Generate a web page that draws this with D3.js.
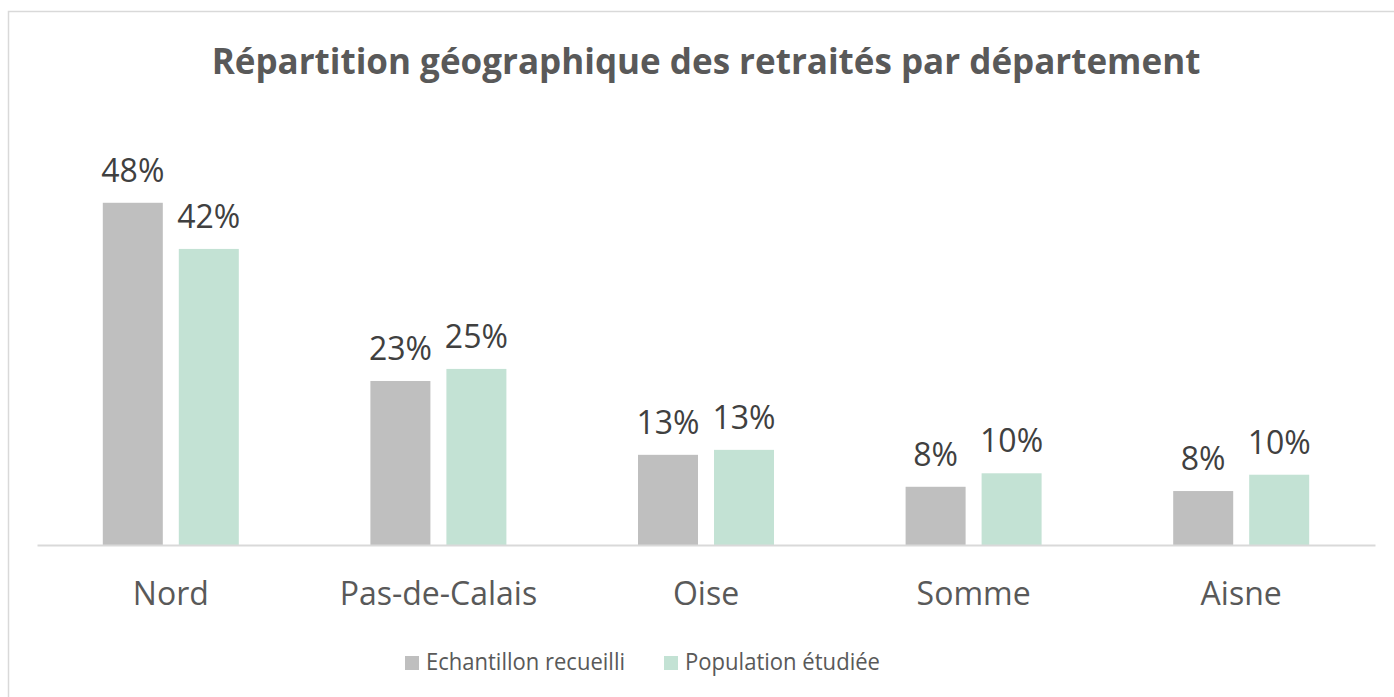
<!DOCTYPE html>
<html>
<head>
<meta charset="utf-8">
<script src="https://cdn.jsdelivr.net/npm/d3@7"></script>
<style>
  body { margin: 0; background: #fff; }
  svg { display: block; }
</style>
</head>
<body>
<div id="chart"></div>
<script>
// data
var categories = ["Nord", "Pas-de-Calais", "Oise", "Somme", "Aisne"];
var seriesNames = ["Echantillon recueilli", "Population étudiée"];
var echantillon = [48.2, 23.1, 12.7, 8.2, 7.6];
var population = [41.7, 24.8, 13.4, 10.1, 9.9];
var title = "Répartition géographique des retraités par département";

var colors = ["#bfbfbf", "#c3e2d4"];
var font = "'Open Sans', 'Noto Sans', sans-serif";

const width = 1394, height = 697;

var s = d3.select("#chart").append("svg")
    .attr("width", width)
    .attr("height", height);

// chart border (runs past the right and bottom edges)
s.append("rect")
    .attr("x", 8.5).attr("y", 11.5)
    .attr("width", 1400).attr("height", 700)
    .attr("fill", "#fff")
    .attr("stroke", "#d9d9d9")
    .attr("stroke-width", 1.5);

// title
var t = s.append("text")
    .attr("x", 706).attr("y", 74)
    .attr("text-anchor", "middle")
    .attr("font-family", font)
    .attr("font-weight", "bold")
    .attr("font-size", 35)
    .attr("fill", "#595959")
    .text(title);
if (Math.abs(t.node().getComputedTextLength() - 990) > 4) {
    t.attr("textLength", 990).attr("lengthAdjust", "spacingAndGlyphs");
}

// scales
var x0 = d3.scaleBand().domain(categories).range([37, 1375]);
var x1 = d3.scaleBand().domain(seriesNames).range([0, 136]).paddingInner(0.2105);
var y = d3.scaleLinear().domain([0, 50]).range([545, 190]);

var rows = categories.map(function(c, i){
    return {cat: c, vals: [echantillon[i], population[i]]};
});

var groups = s.selectAll("g.grp")
    .data(rows)
    .enter()
    .append("g")
    .attr("class", "grp")
    .attr("transform", function(d){
        return "translate(" + (x0(d.cat) + x0.bandwidth() / 2 - 68) + ",0)";
    });

groups.selectAll("rect")
    .data(function(d){ return d.vals.map(function(v, k){ return {k: k, v: v}; }); })
    .enter()
    .append("rect")
    .attr("x", function(d){ return x1(seriesNames[d.k]); })
    .attr("y", function(d){ return y(d.v); })
    .attr("width", x1.bandwidth())
    .attr("height", function(d){ return y(0) - y(d.v); })
    .attr("fill", function(d){ return colors[d.k]; });

// data labels
groups.selectAll("text")
    .data(function(d){ return d.vals.map(function(v, k){ return {k: k, v: v}; }); })
    .enter()
    .append("text")
    .attr("x", function(d){ return x1(seriesNames[d.k]) + x1.bandwidth() / 2; })
    .attr("y", function(d){ return y(d.v) - 21; })
    .attr("text-anchor", "middle")
    .attr("font-family", font)
    .attr("font-size", 32)
    .attr("fill", "#404040")
    .text(function(d){ return Math.round(d.v) + "%"; });

// x axis
var xaxis = d3.axisBottom(x0).tickSize(0).tickPadding(0);
var ax = s.append("g")
    .attr("transform", "translate(0,545)")
    .call(xaxis);
ax.select(".domain")
    .attr("stroke", "#d9d9d9")
    .attr("stroke-width", 2);
ax.selectAll(".tick text")
    .attr("dy", 0)
    .attr("y", 60)
    .attr("font-family", font)
    .attr("font-size", 32)
    .attr("fill", "#595959");

// legend
var legendX = [405, 664];
var lg = s.selectAll("g.leg")
    .data(seriesNames)
    .enter()
    .append("g")
    .attr("class", "leg")
    .attr("transform", function(d, i){ return "translate(" + legendX[i] + ",656)"; });
lg.append("rect")
    .attr("width", 14).attr("height", 14)
    .attr("fill", function(d, i){ return colors[i]; });
lg.append("text")
    .attr("x", 21).attr("y", 14)
    .attr("font-family", font)
    .attr("font-size", 24)
    .attr("fill", "#595959")
    .attr("textLength", function(d, i){ return [199, 195][i]; })
    .attr("lengthAdjust", "spacingAndGlyphs")
    .text(function(d){ return d; });
</script>
</body>
</html>
